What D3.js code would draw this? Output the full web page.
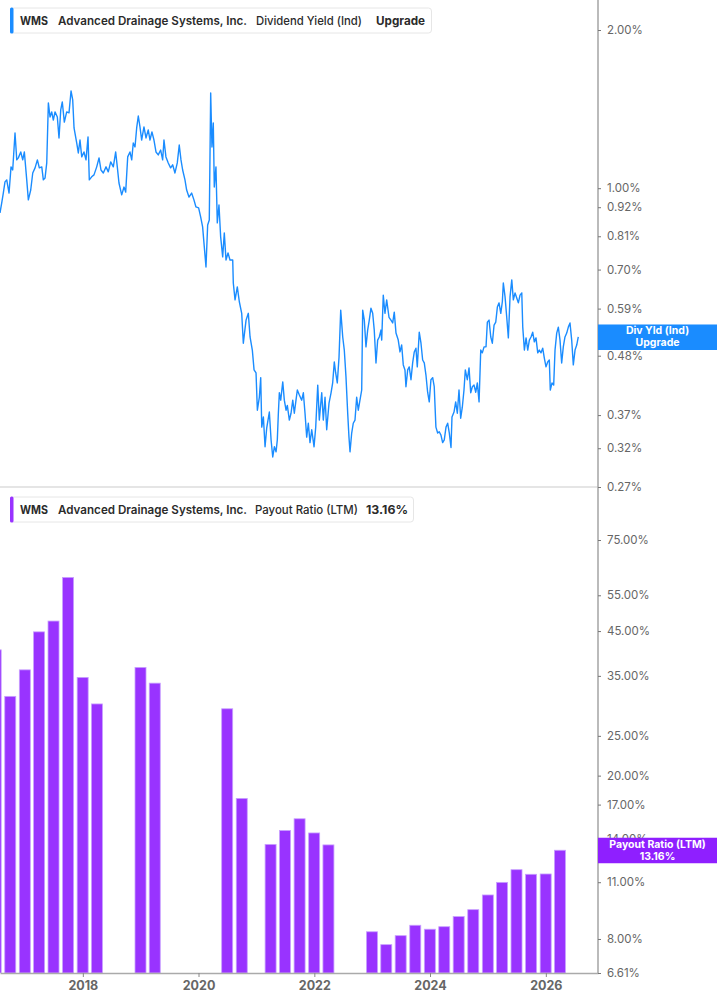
<!DOCTYPE html>
<html>
<head>
<meta charset="utf-8">
<script src="https://cdn.jsdelivr.net/npm/d3@7"></script>
<style>
  body { margin: 0; background: #fff; }
  svg { display: block; font-family: Inter, "Noto Sans", sans-serif; }
</style>
</head>
<body>
<div class="canvas"></div>
<script>
// dividend yield (ind), decimal years and % values
const yieldDates = [
  2016.569,2016.598,2016.626,2016.655,2016.685,2016.725,2016.759,2016.788,2016.828,2016.858,
  2016.885,2016.927,2016.961,2016.989,2017.030,2017.058,2017.099,2017.134,2017.174,2017.214,
  2017.248,2017.290,2017.317,2017.347,2017.376,2017.404,2017.433,2017.462,2017.490,2017.519,
  2017.559,2017.588,2017.618,2017.645,2017.680,2017.721,2017.761,2017.796,2017.825,2017.848,
  2017.894,2017.922,2017.951,2017.981,2018.020,2018.055,2018.090,2018.112,2018.153,2018.193,
  2018.240,2018.280,2018.314,2018.354,2018.401,2018.440,2018.482,2018.527,2018.568,2018.596,
  2018.625,2018.672,2018.712,2018.741,2018.776,2018.815,2018.845,2018.872,2018.902,2018.931,
  2018.959,2018.988,2019.017,2019.057,2019.092,2019.131,2019.161,2019.195,2019.230,2019.265,
  2019.304,2019.346,2019.380,2019.403,2019.437,2019.477,2019.518,2019.553,2019.593,2019.633,
  2019.667,2019.697,2019.726,2019.766,2019.795,2019.835,2019.881,2019.921,2019.956,2020.002,
  2020.037,2020.071,2020.094,2020.129,2020.158,2020.186,2020.210,2020.232,2020.255,2020.272,
  2020.301,2020.324,2020.353,2020.382,2020.417,2020.445,2020.474,2020.509,2020.543,2020.590,
  2020.600,2020.630,2020.669,2020.704,2020.745,2020.773,2020.820,2020.859,2020.889,2020.928,
  2020.958,2020.992,2021.015,2021.049,2021.073,2021.091,2021.119,2021.148,2021.177,2021.222,
  2021.252,2021.281,2021.309,2021.338,2021.360,2021.378,2021.395,2021.419,2021.454,2021.481,
  2021.511,2021.533,2021.568,2021.597,2021.627,2021.654,2021.683,2021.706,2021.741,2021.782,
  2021.810,2021.839,2021.868,2021.896,2021.925,2021.955,2021.995,2022.024,2022.059,2022.086,
  2022.128,2022.155,2022.185,2022.214,2022.254,2022.289,2022.317,2022.345,2022.369,2022.397,
  2022.427,2022.456,2022.491,2022.518,2022.547,2022.577,2022.599,2022.617,2022.646,2022.673,
  2022.703,2022.732,2022.760,2022.789,2022.819,2022.836,2022.864,2022.893,2022.922,2022.950,
  2022.979,2023.009,2023.036,2023.066,2023.095,2023.123,2023.152,2023.165,2023.192,2023.221,
  2023.251,2023.291,2023.325,2023.355,2023.382,2023.412,2023.451,2023.481,2023.510,2023.538,
  2023.567,2023.584,2023.614,2023.641,2023.671,2023.700,2023.728,2023.757,2023.780,2023.814,
  2023.844,2023.873,2023.901,2023.930,2023.959,2023.987,2024.016,2024.046,2024.073,2024.102,
  2024.132,2024.159,2024.189,2024.218,2024.246,2024.276,2024.305,2024.333,2024.362,2024.379,
  2024.414,2024.443,2024.471,2024.500,2024.529,2024.557,2024.586,2024.609,2024.643,2024.673,
  2024.702,2024.730,2024.759,2024.789,2024.816,2024.846,2024.875,2024.902,2024.932,2024.966,
  2024.989,2025.018,2025.048,2025.075,2025.105,2025.134,2025.162,2025.191,2025.221,2025.248,
  2025.265,2025.295,2025.324,2025.352,2025.381,2025.411,2025.438,2025.468,2025.497,2025.525,
  2025.554,2025.584,2025.601,2025.629,2025.658,2025.687,2025.715,2025.744,2025.773,2025.801,
  2025.830,2025.860,2025.887,2025.917,2025.946,2025.974,2026.003,2026.032,2026.060,2026.077,
  2026.107,2026.136,2026.159,2026.188,2026.216,2026.245,2026.274,2026.302,2026.331,2026.361,
  2026.389,2026.418,2026.447,2026.475,2026.505,2026.534,2026.561
]
const yieldValues = [
  0.897,0.937,0.979,1.028,1.037,0.979,1.098,1.083,1.274,1.132,
  1.142,1.172,1.132,1.172,1.037,0.950,0.992,1.069,1.093,1.132,
  1.093,1.098,1.037,1.046,1.117,1.453,1.366,1.397,1.348,1.397,
  1.366,1.246,1.409,1.459,1.336,1.397,1.391,1.531,1.472,1.302,
  1.219,1.167,1.235,1.147,1.172,1.132,1.252,1.037,1.051,1.060,
  1.098,1.142,1.083,1.069,1.098,1.074,1.122,1.098,1.172,1.098,
  1.023,0.971,1.005,0.983,1.147,1.172,1.132,1.219,1.198,1.302,
  1.372,1.308,1.235,1.308,1.246,1.291,1.235,1.280,1.235,1.172,
  1.157,1.182,1.132,1.235,1.147,1.117,1.093,1.108,1.069,1.117,
  1.208,1.132,1.083,1.037,0.992,0.962,0.979,0.950,0.921,0.917,
  0.882,0.844,0.787,0.708,0.851,0.870,1.518,1.198,1.331,1.005,
  1.098,0.859,0.929,0.808,0.740,0.822,0.730,0.753,0.730,0.730,
  0.660,0.613,0.649,0.608,0.578,0.507,0.561,0.578,0.521,0.492,
  0.451,0.445,0.378,0.400,0.436,0.351,0.367,0.322,0.350,0.375,
  0.332,0.308,0.322,0.315,0.332,0.373,0.408,0.395,0.428,0.395,
  0.378,0.386,0.362,0.373,0.395,0.373,0.395,0.413,0.404,0.395,
  0.408,0.373,0.336,0.357,0.328,0.347,0.322,0.351,0.422,0.362,
  0.408,0.362,0.400,0.347,0.390,0.408,0.426,0.467,0.445,0.426,
  0.477,0.586,0.521,0.492,0.438,0.373,0.336,0.315,0.342,0.357,
  0.362,0.400,0.378,0.395,0.413,0.586,0.561,0.499,0.537,0.561,
  0.591,0.578,0.537,0.465,0.514,0.521,0.537,0.514,0.626,0.578,
  0.613,0.568,0.561,0.554,0.581,0.530,0.514,0.488,0.503,0.461,
  0.451,0.419,0.451,0.457,0.432,0.465,0.488,0.496,0.457,0.532,
  0.507,0.471,0.465,0.441,0.409,0.392,0.432,0.436,0.419,0.351,
  0.342,0.344,0.339,0.328,0.332,0.351,0.357,0.342,0.321,0.367,
  0.375,0.392,0.373,0.413,0.365,0.383,0.413,0.451,0.432,0.455,
  0.408,0.419,0.422,0.409,0.426,0.392,0.492,0.486,0.499,0.499,
  0.556,0.561,0.521,0.507,0.549,0.556,0.594,0.605,0.578,0.608,
  0.660,0.621,0.568,0.519,0.621,0.669,0.613,0.632,0.618,0.605,
  0.626,0.632,0.544,0.492,0.519,0.492,0.514,0.521,0.532,0.510,
  0.519,0.486,0.492,0.486,0.496,0.475,0.457,0.467,0.471,0.413,
  0.426,0.422,0.492,0.530,0.544,0.514,0.465,0.499,0.521,0.530,
  0.544,0.554,0.514,0.461,0.492,0.503,0.521
]

// payout ratio (LTM), quarter ends
const payoutDates = [
  "2016-06-30","2016-09-30","2016-12-31","2017-03-31","2017-06-30","2017-09-30","2017-12-31","2018-03-31",
  "2018-12-31","2019-03-31","2020-06-30","2020-09-30","2021-03-31","2021-06-30","2021-09-30","2021-12-31",
  "2022-03-31","2022-12-31","2023-03-31","2023-06-30","2023-09-30","2023-12-31","2024-03-31","2024-06-30",
  "2024-09-30","2024-12-31","2025-03-31","2025-06-30","2025-09-30","2025-12-31","2026-03-31"
]
const payoutValues = [
  40.5,31.2,36.2,44.8,47.6,60.8,34.7,29.9,
  36.7,33.6,29.1,17.6,13.6,14.7,15.7,14.5,
  13.56,8.33,7.75,8.15,8.64,8.45,8.57,9.07,
  9.43,10.24,10.99,11.8,11.5,11.52,13.16
]

const yieldTicks = [2.00, 1.00, 0.92, 0.81, 0.70, 0.59, 0.48, 0.37, 0.32, 0.27]
const payoutTicks = [75, 55, 45, 35, 25, 20, 17, 14, 11, 8, 6.61]
const yearTicks = [2018, 2020, 2022, 2024, 2026]

const blue = '#1a8cff'
const purple = '#9933ff'

// decimal year -> Date
function fromDecimal(v) {
  const yr = Math.floor(v)
  const a = Date.UTC(yr, 0, 1), b = Date.UTC(yr + 1, 0, 1)
  return new Date(a + (v - yr) * (b - a))
}
const parse = d3.utcParse('%Y-%m-%d')

const W = 717, H = 1005
const axisX = 598

const svg = d3.select('.canvas').append('svg')
    .attr('width', W)
    .attr('height', H)

const x = d3.scaleUtc()
    .domain([fromDecimal(2016.569), fromDecimal(2026.902)])
    .range([0, axisX])

const yTop = d3.scaleLog().domain([0.27, 2.0]).range([487, 30])
const yBot = d3.scaleLog().domain([6.61, 75]).range([973, 540])

svg.append('clipPath').attr('id', 'clipTop')
  .append('rect').attr('x', 0).attr('y', 0).attr('width', axisX).attr('height', 487)
svg.append('clipPath').attr('id', 'clipBot')
  .append('rect').attr('x', 0).attr('y', 490).attr('width', axisX).attr('height', 483)

// top panel separator line
svg.append('line')
    .attr('x1', 0).attr('x2', axisX)
    .attr('y1', yTop(0.27)).attr('y2', yTop(0.27))
    .attr('stroke', '#dcdcdc').attr('stroke-width', 1.5)

// dividend yield line
const yieldData = yieldDates.map((d, i) => ({ date: fromDecimal(d), value: yieldValues[i] }))
const line = d3.line().x(d => x(d.date)).y(d => yTop(d.value))

svg.append('path')
    .datum(yieldData)
    .attr('clip-path', 'url(#clipTop)')
    .attr('d', line)
    .attr('fill', 'none')
    .attr('stroke', blue)
    .attr('stroke-width', 1.4)
    .attr('stroke-linejoin', 'round')

// payout bars
const barW = 11
const payoutData = payoutDates.map((d, i) => ({ date: parse(d), value: payoutValues[i] }))
svg.append('g')
    .attr('clip-path', 'url(#clipBot)')
  .selectAll('rect')
  .data(payoutData)
  .join('rect')
    .attr('x', d => x(d.date) - barW / 2)
    .attr('y', d => yBot(d.value))
    .attr('width', barW)
    .attr('height', d => yBot(6.61) - yBot(d.value))
    .attr('fill', purple)
    .attr('stroke', '#c8a0ff')
    .attr('stroke-width', 0.8)

// x axis
const xAxis = svg.append('g')
    .attr('transform', `translate(0,${yBot(6.61)})`)
    .call(d3.axisBottom(x)
      .tickValues(yearTicks.map(y => fromDecimal(y)))
      .tickFormat(d3.utcFormat('%Y'))
      .tickSize(4)
      .tickSizeOuter(0)
      .tickPadding(4))
xAxis.select('.domain').attr('stroke', '#aaa').attr('stroke-width', 1.6)
xAxis.selectAll('.tick line').attr('stroke', '#888')
xAxis.selectAll('.tick text')
    .attr('fill', '#666')
    .style('font-size', '12.5px')
    .style('font-weight', 700)
    .style('font-family', 'Inter, sans-serif')

// right axis line
svg.append('line')
    .attr('x1', axisX).attr('x2', axisX)
    .attr('y1', 0).attr('y2', yBot(6.61))
    .attr('stroke', '#aaa').attr('stroke-width', 1.6)

function styleY(g) {
  g.select('.domain').remove()
  g.selectAll('.tick line').attr('stroke', '#777')
  g.selectAll('.tick text')
    .attr('fill', '#666')
    .style('font-size', '11.5px')
    .style('font-family', 'Inter, sans-serif')
}

svg.append('g')
    .attr('transform', `translate(${axisX},0)`)
    .call(d3.axisRight(yTop).tickValues(yieldTicks).tickSize(3).tickPadding(6)
      .tickFormat(d => d3.format('.2f')(d) + '%'))
    .call(styleY)

svg.append('g')
    .attr('transform', `translate(${axisX},0)`)
    .call(d3.axisRight(yBot).tickValues(payoutTicks).tickSize(3).tickPadding(6)
      .tickFormat(d => d3.format('.2f')(d) + '%'))
    .call(styleY)

// last value labels on the right axis
function valueTag(yPos, color, line1, line2) {
  const g = svg.append('g').attr('transform', `translate(${axisX},${yPos})`)
  g.append('rect')
      .attr('x', 0).attr('y', -12.5)
      .attr('width', W - axisX).attr('height', 25.5)
      .attr('fill', color)
  g.append('text')
      .attr('x', (W - axisX) / 2).attr('y', -2.5)
      .attr('text-anchor', 'middle')
      .attr('fill', '#fff')
      .style('font-size', '10.5px').style('font-weight', 700)
      .text(line1)
  g.append('text')
      .attr('x', (W - axisX) / 2).attr('y', 9.5)
      .attr('text-anchor', 'middle')
      .attr('fill', '#fff')
      .style('font-size', '10.5px').style('font-weight', 700)
      .text(line2)
}
valueTag(yTop(yieldValues[yieldValues.length - 1]), blue, 'Div Yld (Ind)', 'Upgrade')
valueTag(yBot(payoutValues[payoutValues.length - 1]), '#8f1fff', 'Payout Ratio (LTM)', '13.16%')

// legend boxes
function legend(top, w, color, parts) {
  const g = svg.append('g').attr('transform', `translate(10,${top})`)
  g.append('rect')
      .attr('x', 0.5).attr('y', 0.5)
      .attr('width', w).attr('height', 25)
      .attr('rx', 3)
      .attr('fill', '#fff')
      .attr('stroke', '#e6e6e6')
  g.append('rect')
      .attr('x', 0).attr('y', 0)
      .attr('width', 3.5).attr('height', 26)
      .attr('rx', 1.5)
      .attr('fill', color)
  parts.forEach(p => {
    g.append('text')
        .attr('x', p.x).attr('y', 17)
        .attr('fill', '#2b2b2b')
        .attr('textLength', p.len)
        .attr('lengthAdjust', 'spacingAndGlyphs')
        .style('font-size', '12px')
        .style('font-weight', p.w)
        .text(p.t)
  })
}
legend(7.5, 421, blue, [
  { t: 'WMS', x: 10, len: 28, w: 700 },
  { t: 'Advanced Drainage Systems, Inc.', x: 48, len: 189, w: 600 },
  { t: 'Dividend Yield (Ind)', x: 246, len: 106, w: 500 },
  { t: 'Upgrade', x: 366, len: 49, w: 700 }
])
legend(496.5, 403, purple, [
  { t: 'WMS', x: 10, len: 28, w: 700 },
  { t: 'Advanced Drainage Systems, Inc.', x: 48, len: 189, w: 600 },
  { t: 'Payout Ratio (LTM)', x: 245, len: 103, w: 500 },
  { t: '13.16%', x: 356, len: 42, w: 700 }
])
</script>
</body>
</html>
